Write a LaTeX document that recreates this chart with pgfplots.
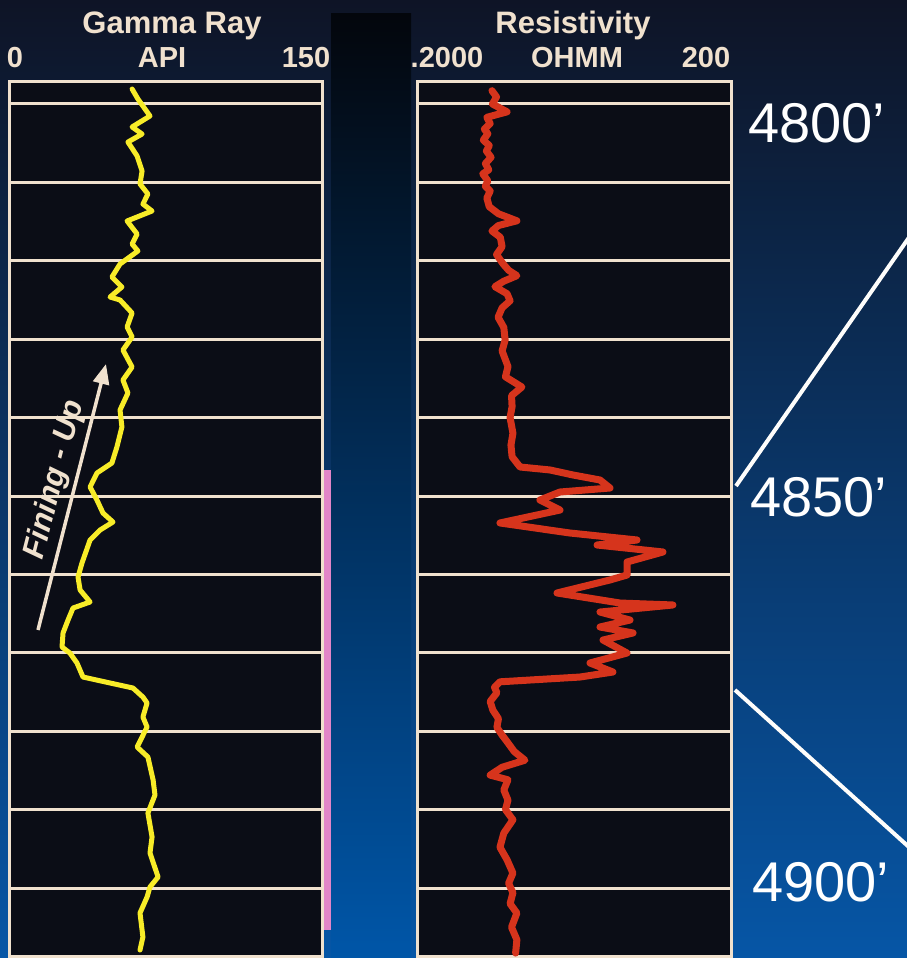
\documentclass[border=0pt]{standalone}
\usepackage{pgfplots}
\pgfplotsset{compat=1.18}
\usetikzlibrary{arrows.meta}
\usepackage{fontspec}
\setmainfont{Liberation Sans}
\definecolor{cream}{RGB}{240,225,206}
\definecolor{trackbg}{RGB}{11,13,22}
\definecolor{gryellow}{RGB}{248,236,40}
\definecolor{resred}{RGB}{214,52,28}
\definecolor{bgtop}{RGB}{14,20,38}
\definecolor{bgmid}{RGB}{8,52,112}
\definecolor{bgbot}{RGB}{6,86,166}
\definecolor{pinkstrip}{RGB}{226,134,200}
\definecolor{bartop}{RGB}{3,6,12}
\definecolor{barbot}{RGB}{0,86,168}

\pgfplotstableread{
api depth
58.7 4798.09
61.5 4799.36
67.3 4801.53
58.7 4802.93
63.5 4803.83
56.7 4804.85
61.1 4806.63
63.5 4808.55
62.5 4810.20
66.3 4811.48
63.9 4812.76
68.3 4813.65
56.3 4814.92
61.1 4816.58
58.7 4817.86
61.5 4818.75
52.9 4820.41
49.0 4822.07
53.8 4823.34
48.1 4824.62
52.9 4825.00
58.7 4826.66
56.3 4828.44
58.7 4829.72
54.3 4831.38
58.7 4833.55
54.3 4835.20
56.7 4836.86
52.9 4839.03
53.8 4841.20
51.4 4843.75
49.0 4845.79
41.8 4847.07
38.5 4848.85
41.8 4850.51
44.7 4852.17
49.5 4853.32
43.3 4854.34
38.5 4855.61
34.6 4858.55
32.7 4860.33
33.7 4861.99
38.5 4863.52
30.3 4864.29
27.9 4865.82
25.5 4867.47
25.0 4869.26
28.8 4870.03
32.2 4871.30
35.1 4873.09
48.1 4873.85
59.1 4874.49
63.9 4875.64
65.9 4876.40
63.9 4878.19
65.9 4879.46
61.1 4882.02
66.3 4883.29
68.8 4886.22
69.7 4888.14
66.3 4890.43
68.3 4893.49
67.3 4895.54
71.2 4898.60
67.3 4899.87
65.9 4901.15
62.5 4903.19
63.9 4906.25
62.5 4907.91
}\gammatable

\pgfplotstableread{
res depth
1.04 4798.3
1.15 4799.1
1.05 4800.0
1.45 4801.0
0.93 4801.7
1.00 4802.5
0.88 4803.2
0.95 4803.8
0.86 4804.6
0.98 4805.3
0.92 4806.0
1.02 4806.8
0.90 4807.6
0.97 4808.4
0.85 4808.9
0.95 4809.8
0.90 4810.5
1.00 4811.1
0.93 4812.0
0.98 4813.1
1.20 4814.0
1.80 4814.9
1.20 4815.5
1.04 4816.2
1.25 4817.0
1.30 4818.2
1.15 4819.2
1.33 4820.4
1.50 4821.2
1.80 4821.9
1.35 4822.6
1.11 4823.3
1.45 4824.2
1.55 4825.1
1.30 4826.0
1.19 4827.2
1.35 4828.5
1.39 4830.1
1.30 4831.5
1.48 4833.5
1.40 4834.8
2.01 4836.1
1.60 4837.2
1.62 4838.6
1.55 4840.0
1.65 4842.0
1.58 4843.5
1.62 4845.0
1.93 4846.30
3.73 4846.68
6.19 4847.32
11.2 4847.96
13.96 4848.98
4.65 4849.49
2.99 4850.51
4.65 4851.79
1.24 4853.44
5.79 4854.72
25.3 4855.61
10.5 4856.25
44.8 4857.14
20.3 4858.42
20.3 4860.08
13.96 4860.71
4.35 4862.37
17.4 4863.65
55.8 4863.90
11.2 4864.80
21.7 4865.82
11.2 4866.71
23.2 4867.47
11.97 4868.37
20.3 4870.03
8.99 4871.30
14.9 4872.45
7.22 4873.09
1.24 4873.7
1.10 4874.4
1.16 4875.1
1.00 4876.2
1.06 4877.3
1.20 4878.4
1.16 4879.5
1.30 4880.5
1.48 4881.5
1.70 4882.6
2.15 4883.7
1.30 4884.6
1.00 4885.6
1.48 4886.2
1.35 4887.5
1.48 4888.8
1.40 4890.0
1.65 4891.3
1.35 4893.0
1.24 4894.8
1.45 4896.4
1.65 4898.1
1.50 4899.4
1.65 4900.6
1.55 4902.0
1.80 4903.2
1.60 4905.0
1.80 4906.6
1.75 4908.3
}\restable

\pgfplotsset{
  logtrack/.style={
    scale only axis, height=874pt,
    ymin=4797.194, ymax=4908.673, y dir=reverse,
    axis background/.style={fill=trackbg},
    axis line style={cream, line width=3pt},
    xtick=\empty, ytick={4800,4810,...,4900}, yticklabels={},
    ymajorgrids, grid style={cream, line width=3pt},
    major tick length=0pt,
  }
}

\begin{document}
\begin{tikzpicture}[x=1pt,y=1pt]
\useasboundingbox (0,0) rectangle (907,958);
\clip (0,0) rectangle (907,958);
\shade[top color=bgtop, middle color=bgmid, bottom color=bgbot] (0,0) rectangle (907,958);
\shade[top color=bartop, bottom color=barbot] (331,0) rectangle (411,944);
\fill[pinkstrip] (322,28) rectangle (331,488);

% Gamma Ray track
\begin{axis}[logtrack, at={(10pt,876pt)}, anchor=north west, width=312pt,
  xmin=0, xmax=150]
\addplot[gryellow, line width=5pt, line join=round, line cap=round] table[x=api, y=depth] {\gammatable};
\draw[cream, line width=3pt] (axis cs:150,4800) -- ++(8pt,0pt);
\end{axis}

% Resistivity track
\begin{axis}[logtrack, at={(417pt,876pt)}, anchor=north west, width=314pt,
  xmode=log, xmin=0.2, xmax=200]
\addplot[resred, line width=7pt, line join=round, line cap=round] table[x=res, y=depth] {\restable};
\draw[cream, line width=3pt] (axis cs:0.2,4800) -- ++(-8pt,0pt);
\draw[cream, line width=3pt] (axis cs:0.2,4850) -- ++(-8pt,0pt);
\draw[cream, line width=3pt] (axis cs:0.2,4900) -- ++(-8pt,0pt);
\end{axis}

% headers
\begin{scope}[every node/.style={text=cream, font=\bfseries\fontsize{31}{33}\selectfont, anchor=base, inner sep=0pt}]
\node at (172,924) {Gamma Ray};
\node at (573,924) {Resistivity};
\end{scope}
\begin{scope}[every node/.style={text=cream, font=\bfseries\fontsize{29}{31}\selectfont, anchor=base, inner sep=0pt}]
\node at (15,890) {0};
\node at (162,890) {API};
\node at (306,890) {150};
\node at (447,890) {.2000};
\node at (577,890) {OHMM};
\node at (706,890) {200};
\end{scope}

% depth labels
\begin{scope}[every node/.style={text=white, font=\fontsize{56}{60}\selectfont, anchor=base west, inner sep=0pt}]
\node at (748,815) {4800’};
\node at (750,441) {4850’};
\node at (752,56) {4900’};
\end{scope}

% diagonal connector lines
\draw[white!92!cream, line width=4pt] (736,472) -- (910,722);
\draw[white!92!cream, line width=4pt] (735,268) -- (910,110);

% fining-up arrow
\draw[cream, line width=3.5pt, -{Triangle[length=20pt,width=16pt]}] (38,328) -- (106,594);
\node[text=cream, font=\bfseries\itshape\fontsize{31}{33}\selectfont, rotate=75.7, inner sep=0pt] at (55,478) {Fining - Up};
\end{tikzpicture}
\end{document}
